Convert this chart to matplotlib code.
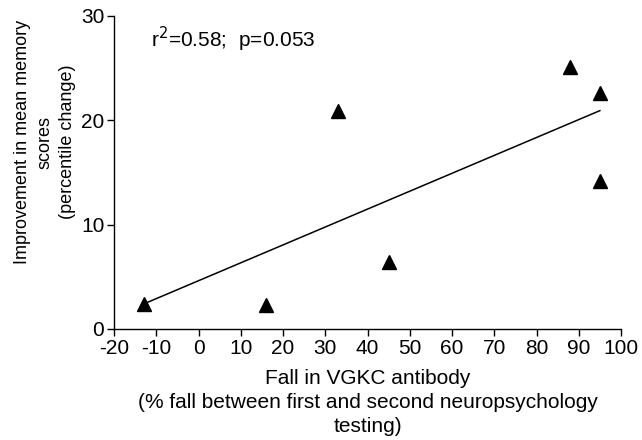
"""VGKC antibody fall vs memory improvement scatter with linear fit."""

import matplotlib

matplotlib.use("Agg")
import matplotlib.pyplot as plt
import numpy as np

plt.rcParams["font.family"] = ["Liberation Sans", "DejaVu Sans"]
plt.rcParams["axes.unicode_minus"] = False

# values
antibody_fall = [-13, 16, 33, 45, 88, 95, 95]
memory_improvement = [2.4, 2.3, 20.9, 6.4, 25.1, 22.6, 14.2]
x_ticks = [-20, -10, 0, 10, 20, 30, 40, 50, 60, 70, 80, 90, 100]
y_ticks = [0, 10, 20, 30]
stats_text = r"r$^{2}$=0.58;  p=0.053"

FS = 15

fig = plt.figure(figsize=(6.42, 4.40), dpi=100)
ax = fig.add_axes([114 / 642, 1 - 329 / 440, (621 - 114) / 642, (329 - 15.7) / 440])

x = np.asarray(antibody_fall, dtype=float)
y = np.asarray(memory_improvement, dtype=float)

# least-squares line drawn across the data range
slope, intercept = np.polyfit(x, y, 1)
x_fit = np.array([x.min(), x.max()])
ax.plot(x_fit, slope * x_fit + intercept, color="black", linewidth=1.1, zorder=2)

ax.plot(x, y, linestyle="none", marker="^", markersize=10, color="black", zorder=3)

ax.set_xlim(-20, 100)
ax.set_ylim(0, 30)
ax.set_xticks(x_ticks)
ax.set_yticks(y_ticks)
ax.tick_params(direction="out", length=5, width=1, labelsize=FS, pad=2)
for side in ("top", "right"):
    ax.spines[side].set_visible(False)
for side in ("left", "bottom"):
    ax.spines[side].set_linewidth(1)

ax.set_xlabel(
    "Fall in VGKC antibody\n(% fall between first and second neuropsychology\ntesting)",
    fontsize=FS,
    labelpad=8,
    linespacing=1.35,
)
fig.text(
    45 / 642,
    1 - 142 / 440,
    "Improvement in mean memory\nscores\n(percentile change)",
    rotation=90,
    ha="center",
    va="center",
    multialignment="center",
    fontsize=13,
    linespacing=1.45,
)

ax.text(151 / 642, 1 - 47 / 440, stats_text, transform=fig.transFigure, fontsize=FS, ha="left", va="baseline")

fig.savefig("out.png", dpi=100)
